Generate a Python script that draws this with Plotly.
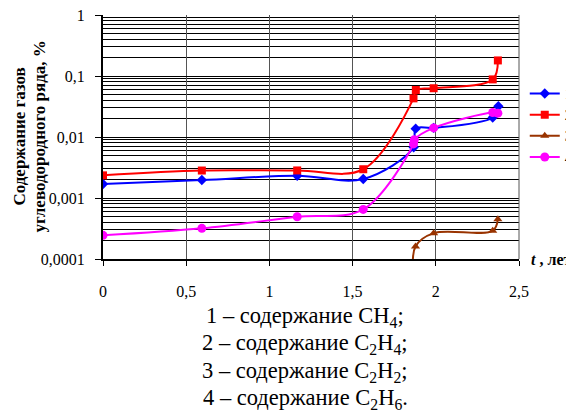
import plotly.graph_objects as go

# --- data ---
t_ch4 = [0, 0.594, 1.167, 1.564, 1.867, 1.879, 1.987, 2.342, 2.376]
ch4 = [0.0017, 0.00197, 0.00232, 0.00205, 0.0068, 0.0137, 0.0141, 0.0209, 0.032]

t_c2h4 = [0, 0.594, 1.167, 1.564, 1.866, 1.880, 1.987, 2.342, 2.373]
c2h4 = [0.00235, 0.00282, 0.00283, 0.00296, 0.043, 0.059, 0.063, 0.088, 0.18]

t_c2h2 = [1.866, 1.878, 1.987, 2.342, 2.373]
c2h2 = [0.00005, 0.00016, 0.000265, 0.00029, 0.00045]

t_c2h6 = [0, 0.594, 1.167, 1.564, 1.866, 1.871, 1.987, 2.342, 2.373]
c2h6 = [0.000244, 0.000318, 0.000493, 0.00065, 0.0077, 0.009, 0.0141, 0.0252, 0.0246]

series_names = ["1", "2", "3", "4"]
series_colors = ["#0000FF", "#FF0000", "#993300", "#FF00FF"]
series_symbols = ["diamond", "square", "triangle-up", "circle"]
series_sizes = [8, 8, 8, 9]

caption_lines = [
    "1 – содержание CH<sub>4</sub>;",
    "2 – содержание C<sub>2</sub>H<sub>4</sub>;",
    "3 – содержание C<sub>2</sub>H<sub>2</sub>;",
    "4 – содержание C<sub>2</sub>H<sub>6</sub>.",
]
ytitle_lines = ["Содержание газов", "углеводородного ряда, %"]
xtitle = "<i>t</i> , лет"

FONT = "Times New Roman, Liberation Serif, DejaVu Serif, serif"

fig = go.Figure()
xs = [t_ch4, t_c2h4, t_c2h2, t_c2h6]
ys = [ch4, c2h4, c2h2, c2h6]
for name, x, y, col, sym, sz in zip(series_names, xs, ys, series_colors,
                                    series_symbols, series_sizes):
    fig.add_trace(go.Scatter(
        x=x, y=y, name=name, mode="lines+markers",
        line=dict(color=col, width=2, shape="spline", smoothing=1),
        marker=dict(symbol=sym, size=sz, color=col),
    ))

# page body has an 8px margin, so the figure is sized to fit inside the window
fig.update_layout(
    width=566, height=406,
    margin=dict(l=95, r=55, t=7, b=155, autoexpand=False),
    paper_bgcolor="white", plot_bgcolor="white",
    font=dict(family=FONT, size=16, color="black"),
    separators=", ",
    showlegend=True,
    legend=dict(xref="container", yref="container",
                x=0.913, xanchor="left", y=0.828, yanchor="top",
                font=dict(size=14, family=FONT), tracegroupgap=0, itemwidth=30,
                bgcolor="rgba(0,0,0,0)"),
)

fig.update_xaxes(
    range=[0, 2.5], dtick=0.5, tick0=0,
    showgrid=True, gridcolor="#555555", gridwidth=1,
    showline=True, linecolor="black", linewidth=2,
    ticks="outside", ticklen=5, tickcolor="black", tickwidth=1,
    ticklabelstandoff=12, zeroline=False, mirror=False,
    ticklabeloverflow="allow",
    tickfont=dict(size=16, family=FONT),
)
fig.update_yaxes(
    type="log", range=[-4, 0], dtick=1, tickformat="~g",
    showgrid=True, gridcolor="black", gridwidth=1,
    minor=dict(dtick="D1", showgrid=True, gridcolor="black", gridwidth=1,
               ticks=""),
    showline=True, linecolor="black", linewidth=2,
    ticks="outside", ticklen=6, tickcolor="black", tickwidth=1,
    ticklabelstandoff=7, zeroline=False,
    ticklabeloverflow="allow",
    tickfont=dict(size=16, family=FONT),
)

# right border of plot area
fig.add_shape(type="line", xref="paper", yref="paper", x0=1, x1=1, y0=0, y1=1,
              line=dict(color="#555555", width=1))

# y title (two lines, bold, rotated)
for xp, txt in zip([-0.203, -0.155], ytitle_lines):
    fig.add_annotation(x=xp, y=0.5, xref="paper", yref="paper",
                       text="<b>" + txt + "</b>", textangle=-90, showarrow=False,
                       xanchor="center", yanchor="middle",
                       font=dict(size=17, family=FONT))

# x title
fig.add_annotation(x=1.025, y=0.0, xref="paper", yref="paper",
                   text="<b>" + xtitle + "</b>", showarrow=False,
                   xanchor="left", yanchor="middle",
                   font=dict(size=16, family=FONT))

# captions below chart
cap_y = [-0.2377, -0.3504, -0.4631, -0.5738]
for yp, txt in zip(cap_y, caption_lines):
    fig.add_annotation(x=0.486, y=yp, xref="paper", yref="paper",
                       text=txt, showarrow=False,
                       xanchor="center", yanchor="middle",
                       font=dict(size=22.5, family=FONT))

fig.write_html("out.html")
